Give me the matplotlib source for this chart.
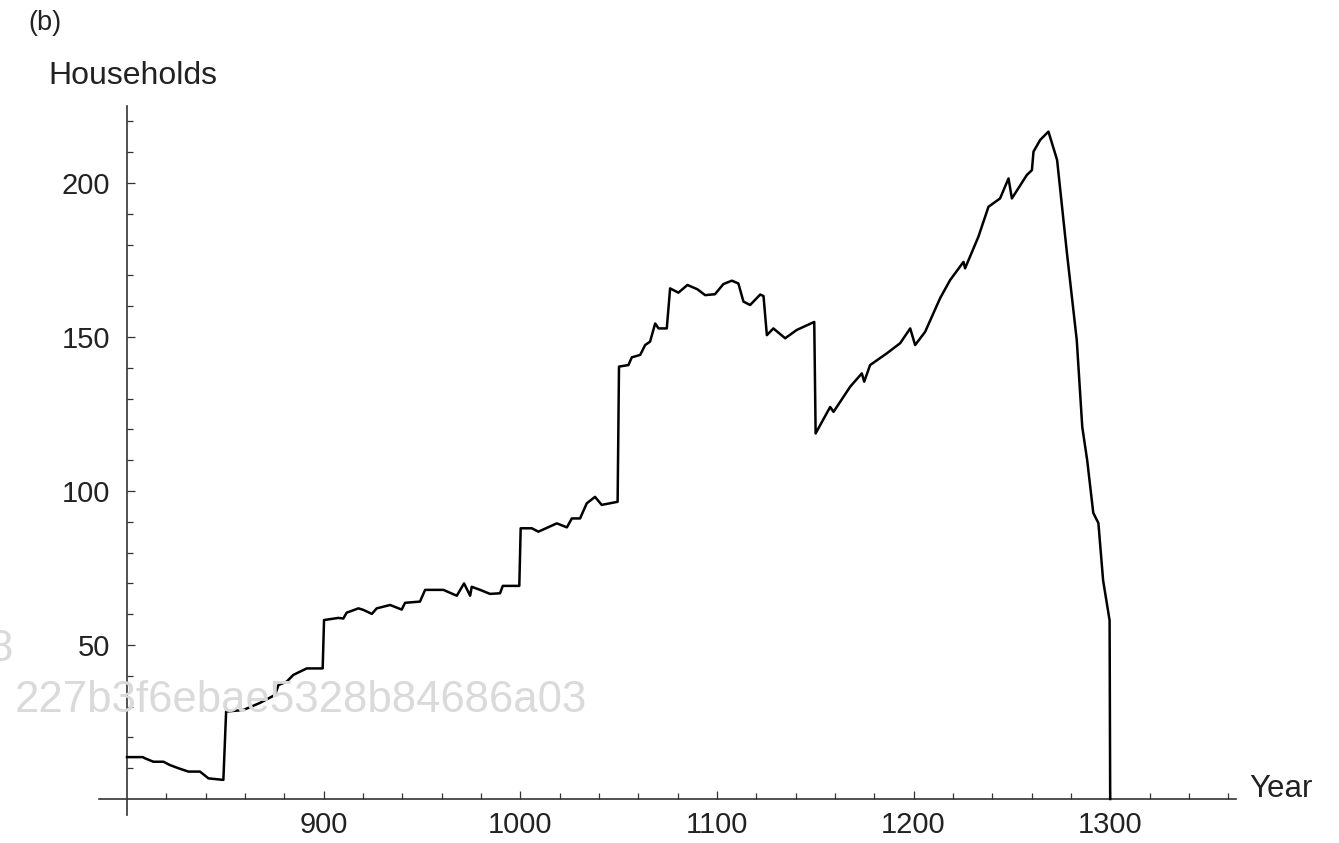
import matplotlib
matplotlib.use("Agg")
import matplotlib.pyplot as plt
from matplotlib.ticker import FixedLocator

plt.rcParams['font.family'] = ['Liberation Sans', 'DejaVu Sans']

# simulated households per year
years = [800, 808, 809.2, 813.4, 818.5, 821.9, 826.1, 831.2, 837.1, 841.4, 849, 850.4,
         859.2, 867.6, 875.3, 877, 881.2, 884.6, 891.4, 899.5, 900.2, 907.5, 910, 911.7,
         917.7, 920.2, 924.5, 927, 933.8, 939.7, 941.4, 949, 951.6, 960.9, 967.7, 971.4,
         974.5, 975.3, 979.6, 984.6, 989.7, 991.1, 999.5, 1000.2, 1005.9, 1009.2, 1018.6,
         1023.7, 1026.2, 1030.4, 1033.8, 1038, 1041.4, 1049.5, 1050.2, 1055, 1056.7, 1061,
         1063.5, 1066, 1068.6, 1070.3, 1074.5, 1076.2, 1080.4, 1085, 1090.1, 1094, 1099,
         1103.3, 1107.6, 1110.9, 1113.5, 1116.9, 1122, 1123.7, 1125.4, 1128.7, 1134.7,
         1140.6, 1149.5, 1150.2, 1157.6, 1159.3, 1167.8, 1173.7, 1174.9, 1177.9, 1186.4,
         1193.2, 1198.3, 1200.8, 1205.9, 1213.5, 1218.6, 1225.4, 1226.2, 1233, 1238.1,
         1244, 1248.3, 1250, 1257.6, 1260.2, 1261, 1264.4, 1268.6, 1273, 1278, 1283,
         1285.8, 1288.3, 1291.4, 1294, 1296.4, 1299.7, 1300]
households = [13.6, 13.6, 13.2, 12.1, 12.1, 11.0, 10.0, 8.9, 8.9, 6.7, 6.2, 28.4,
              28.9, 31.2, 33.8, 37, 38.1, 40.3, 42.4, 42.4, 58.1, 58.8, 58.6, 60.5,
              61.9, 61.4, 60.1, 61.9, 63, 61.5, 63.7, 64.1, 67.9, 67.9, 66, 70,
              66, 68.9, 67.9, 66.6, 66.8, 69.2, 69.2, 87.9, 87.9, 86.8, 89.5,
              88.2, 91.1, 91.1, 96, 98.1, 95.5, 96.5, 140.4, 140.9, 143.4, 144.2,
              147.4, 148.5, 154.4, 152.8, 152.8, 165.8, 164.4, 166.9, 165.5, 163.6, 163.9,
              167.2, 168.3, 167.4, 161.5, 160.4, 163.8, 163.3, 150.6, 152.8, 149.6,
              152.3, 154.9, 118.7, 127.3, 125.7, 133.9, 138.2, 135.5, 140.9, 144.7,
              148, 152.8, 147.4, 151.7, 162.6, 168.5, 174.4, 172.3, 182.6, 192.3,
              195, 201.5, 195, 202.6, 204.2, 210.2, 214, 216.7, 207.5, 177.3, 149,
              120.8, 110, 92.9, 89.6, 71, 58, 0]

xticks = [900, 1000, 1100, 1200, 1300]
yticks = [50, 100, 150, 200]

axis_col = '#333333'
text_col = '#222222'

fig = plt.figure(figsize=(13.39, 8.43), dpi=100)
ax = fig.add_axes([0.0743, 0.0332, 0.8488, 0.841])

# watermark sitting behind the curve
fig.text(0.011, 0.169, '227b3f6ebae5328b84686a03', fontsize=31.5, color='#dadada',
         va='center', ha='left', zorder=0)
fig.text(-0.009, 0.229, '8', fontsize=31.5, color='#dadada', va='center', ha='left', zorder=0)

ax.plot(years, households, color='black', lw=1.8, solid_joinstyle='round', zorder=3)

ax.set_xlim(786, 1364)
ax.set_ylim(-5.2, 225)
ax.patch.set_alpha(0)

for s in ['top', 'right']:
    ax.spines[s].set_visible(False)
ax.spines['left'].set_position(('data', 800))
ax.spines['bottom'].set_position(('data', 0))
for s in ['left', 'bottom']:
    ax.spines[s].set_color(axis_col)
    ax.spines[s].set_linewidth(1.2)

ax.xaxis.set_major_locator(FixedLocator(xticks))
ax.xaxis.set_minor_locator(FixedLocator([v for v in range(820, 1361, 20) if v % 100]))
ax.yaxis.set_major_locator(FixedLocator(yticks))
ax.yaxis.set_minor_locator(FixedLocator([v for v in range(10, 221, 10) if v % 50]))

ax.tick_params(which='both', direction='in', color=axis_col, width=0.9)
ax.tick_params(which='major', length=6)
ax.tick_params(which='minor', length=4.5)
ax.tick_params(axis='x', which='major', labelsize=21, labelcolor=text_col, pad=9)
ax.tick_params(axis='y', which='major', labelsize=21, labelcolor=text_col, pad=12)

fig.text(0.036, 0.910, 'Households', fontsize=23, color=text_col, va='center', ha='left')
fig.text(0.021, 0.973, '(b)', fontsize=19.5, color=text_col, va='center', ha='left')
fig.text(0.933, 0.064, 'Year', fontsize=22.5, color=text_col, va='center', ha='left')

fig.savefig('out.png', dpi=100)
